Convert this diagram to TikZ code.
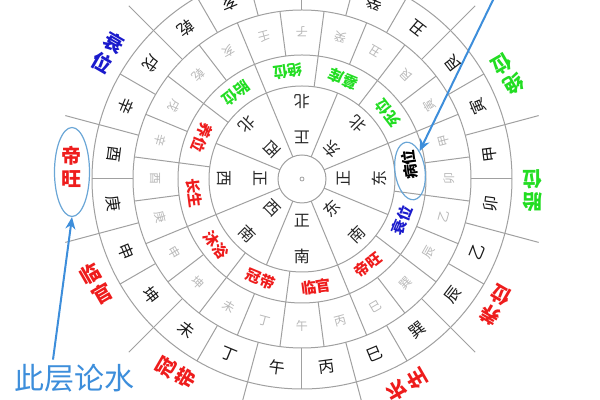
\documentclass[tikz,border=0pt]{standalone}
\usepackage{fontspec}
\newfontfamily\cjk{Noto Sans CJK SC}
\usetikzlibrary{shapes.geometric,arrows.meta}
\definecolor{ringgray}{HTML}{A0A0A0}
\definecolor{lightchar}{HTML}{B8B8B8}
\definecolor{stagered}{HTML}{EE1C1C}
\definecolor{stagegreen}{HTML}{22DD22}
\definecolor{stageblue}{HTML}{1A1ACC}
\definecolor{notesky}{HTML}{3D8EDB}
\definecolor{ringsky}{HTML}{6AA6D6}

\begin{document}
\begin{tikzpicture}[x=0.5pt,y=0.5pt,
  ring/.style={draw=ringgray,line width=0.5pt},
  dir/.style={font=\cjk\fontsize{8}{18}\selectfont,text=black!85,align=center,inner sep=0pt},
  mount/.style={font=\cjk\fontsize{8}{9}\selectfont,text=black!90,inner sep=0pt},
  faint/.style={font=\cjk\fontsize{6}{7}\selectfont,text=lightchar,inner sep=0pt},
  stage/.style={font=\cjk\bfseries\fontsize{7.5}{9}\selectfont,inner sep=0pt},
  outer/.style={font=\cjk\bfseries\fontsize{10}{11.5}\selectfont,align=center,inner sep=0pt},
  hoop/.style={draw=ringsky,line width=0.6pt,ellipse,inner sep=0pt},
  pointer/.style={draw=notesky,line width=1pt,-{Stealth[length=6pt,width=5pt]}}]

\useasboundingbox (-302,-221) rectangle (298,179);

% rings and spokes
\foreach \r in {24,93,124,169,210} \draw[ring] (0,0) circle (\r);
\node[draw=ringgray,circle,minimum size=2pt,inner sep=0pt] (hub) at (0,0) {};
\foreach \a in {22.5,67.5,...,337.5} \draw[ring] (\a:24) -- (\a:93);
\foreach \a in {22.5,52.5,...,352.5} \draw[ring] (\a:93) -- (\a:124);
\foreach \a in {7.5,22.5,...,352.5} \draw[ring] (\a:124) -- (\a:169);
\foreach \a in {0,15,...,345} \draw[ring] (\a:169) -- (\a:210);
\foreach \a in {15,45,...,345} \draw[ring] (\a:210) -- (\a:245);

% eight directions
\foreach \a/\p/\q [count=\i] in {0/正/东,45/东/北,90/正/北,135/西/北,180/正/西,225/西/南,270/正/南,315/东/南}
  \node[dir,rotate=\a+90] (dir\i) at (\a:60) {\p\\\q};

% twenty-four mountains
\foreach \t [count=\i from 0,evaluate=\i as \a using 15*\i] in {卯,甲,寅,艮,丑,癸,子,壬,亥,乾,戌,辛,酉,庚,申,坤,未,丁,午,丙,巳,巽,辰,乙} {
  \node[faint,rotate=\a+90] (zh\i) at (\a:147) {\t};
  \node[mount,rotate=\a+82.5] (fz\i) at (\a-7.5:190) {\t};
}

% twelve stages
\foreach \t/\c [count=\i from 0,evaluate=\i as \a using 157.5+30*\i] in {养位/stagered,长生/stagered,沐浴/stagered,冠带/stagered,临官/stagered,帝旺/stagered,衰位/stageblue,病位/black,死位/stagegreen,墓库/stagegreen,绝位/stagegreen,胎位/stagegreen}
  \node[stage,text=\c,rotate=\a+90] (st\i) at (\a:108.5) {\t};

% outside labels
\foreach \a/\p/\q/\c [count=\i] in {177/帝/旺/stagered,147/衰/位/stageblue,207/临/官/stagered,237/冠/带/stagered,297/长/生/stagered,327/养/位/stagered,357/胎/位/stagegreen,27/绝/位/stagegreen}
  \node[outer,text=\c,rotate=\a+183] (ot\i) at (\a:231) {\p\\\q};

% notes
\node[hoop,minimum width=17.5pt,minimum height=44.5pt] (wanghoop) at (-230,7) {};
\node[hoop,minimum width=15pt,minimum height=29pt,rotate=8] (binghoop) at (108,8) {};
\node[font=\cjk\fontsize{15}{18}\selectfont,text=notesky,inner sep=0pt] (shui) at (-227,-199) {此层论水};
\coordinate (skytip) at (192,181);

\draw[pointer] ([xshift=-11pt,yshift=2pt]shui.north) -- (wanghoop.south);
\draw[pointer] (skytip) -- (binghoop);
\end{tikzpicture}
\end{document}
